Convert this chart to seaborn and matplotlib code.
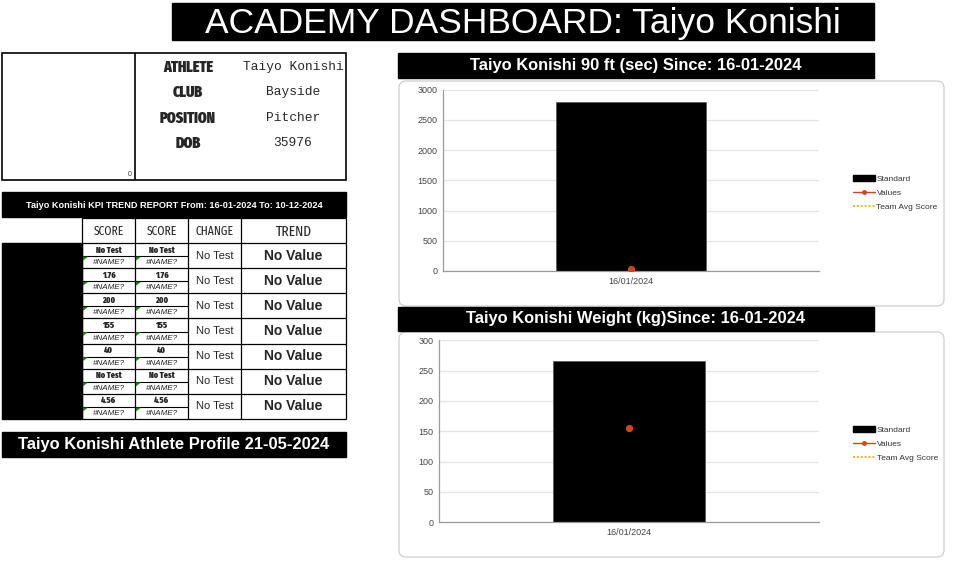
import matplotlib
matplotlib.use("Agg")
import matplotlib.pyplot as plt
import seaborn as sns
from matplotlib.patches import Rectangle, FancyBboxPatch, Polygon, Patch
from matplotlib.lines import Line2D
from matplotlib import font_manager as fm

# ---------------- data ----------------
dashboard_title = "ACADEMY DASHBOARD: Taiyo Konishi"
athlete_fields = ["ATHLETE", "CLUB", "POSITION", "DOB"]
athlete_values = ["Taiyo Konishi", "Bayside", "Pitcher", "35976"]
photo_placeholder = "0"

kpi_title = "Taiyo Konishi KPI TREND REPORT From: 16-01-2024 To: 10-12-2024"
kpi_headers = ["SCORE", "SCORE", "CHANGE", "TREND"]
kpi_first_scores = ["No Test", "1.76", "200", "155", "40", "No Test", "4.56"]
kpi_last_scores = ["No Test", "1.76", "200", "155", "40", "No Test", "4.56"]
kpi_formula_cells = ["#NAME?", "#NAME?", "#NAME?", "#NAME?", "#NAME?", "#NAME?", "#NAME?"]
kpi_change = ["No Test", "No Test", "No Test", "No Test", "No Test", "No Test", "No Test"]
kpi_trend = ["No Value", "No Value", "No Value", "No Value", "No Value", "No Value", "No Value"]
profile_footer = "Taiyo Konishi Athlete Profile 21-05-2024"

chart1_title = "Taiyo Konishi 90 ft (sec) Since: 16-01-2024"
chart1_dates = ["16/01/2024"]
chart1_standard = [2800]
chart1_values = [40]
chart1_ymax, chart1_step = 3000, 500

chart2_title = "Taiyo Konishi Weight (kg)Since: 16-01-2024"
chart2_dates = ["16/01/2024"]
chart2_standard = [266]
chart2_values = [155]
chart2_ymax, chart2_step = 300, 50

legend_labels = ["Standard", "Values", "Team Avg Score"]

# ---------------- setup ----------------
sns.set_theme(style="white")
W, H = 962, 578
SANS = ["Liberation Sans", "DejaVu Sans"]
MONO = ["Liberation Mono", "DejaVu Sans Mono"]
plt.rcParams["font.family"] = SANS


def _weight(f):
    w = f.weight
    if isinstance(w, str):
        w = fm.weight_dict.get(w, 400)
    return int(w)


def _find_condensed(heavy):
    best, best_score = None, -1e9
    for f in fm.fontManager.ttflist:
        key = (f.name + " " + f.fname).lower()
        if f.style != "normal":
            continue
        if "extracondensed" in key.replace("-", "").replace(" ", "") or f.stretch == "extra-condensed":
            s = 30
        elif "condensed" in key or f.stretch in ("condensed", "semi-condensed"):
            s = 20
        elif "narrow" in key:
            s = 15
        else:
            continue
        w = _weight(f)
        s -= abs(w - (850 if heavy else 400)) / 50
        if "mono" in key or "serif" in key and "sans" not in key:
            s -= 50
        if s > best_score:
            best, best_score = f, s
    if best is None:
        return dict(family="DejaVu Sans", fontweight="bold" if heavy else "normal")
    return dict(fontproperties=fm.FontProperties(fname=best.fname))


COND_HEAVY = _find_condensed(True)
COND_REG = _find_condensed(False)

fig = plt.figure(figsize=(W / 100, H / 100), dpi=100)
fig.patch.set_facecolor("white")
bg = fig.add_axes([0, 0, 1, 1])
bg.set_xlim(0, W)
bg.set_ylim(H, 0)
bg.axis("off")


def rect(x0, y0, x1, y1, fc="none", ec="black", lw=1.0, z=1):
    bg.add_patch(Rectangle((x0, y0), x1 - x0, y1 - y0, facecolor=fc, edgecolor=ec, lw=lw, zorder=z))


def hline(x0, x1, y, lw=0.9, c="black"):
    bg.plot([x0, x1], [y, y], color=c, lw=lw, zorder=3, solid_capstyle="butt")


def vline(x, y0, y1, lw=0.9, c="black"):
    bg.plot([x, x], [y0, y1], color=c, lw=lw, zorder=3, solid_capstyle="butt")


def cond_text(x, y, s, size, heavy=True, **kw):
    props = dict(COND_HEAVY if heavy else COND_REG)
    t = bg.text(x, y, s, ha="center", va="center", **props, **kw)
    t.set_fontsize(size)
    return t


# title bar
rect(172, 3, 874, 40, fc="black", ec="black")
bg.text(523, 23, dashboard_title, color="white", fontsize=25.5, ha="center", va="center", family=SANS)

# profile box
rect(2, 53, 346, 180, fc="white", ec="black", lw=1.2)
vline(135, 53, 180, lw=1.2)
bg.text(132, 174, photo_placeholder, fontsize=5, ha="right", va="center", color="#333")
for i, (f, v) in enumerate(zip(athlete_fields, athlete_values)):
    y = 67 + i * 25.3
    cond_text(188, y + 0.5, f, 11, heavy=True)
    bg.text(293, y, v, fontsize=9.3, ha="center", va="center", family=MONO)

# KPI header
rect(2, 192, 346, 217, fc="black", ec="black")
bg.text(174, 205, kpi_title, color="white", fontsize=6.6, fontweight="bold", ha="center", va="center")

# table
cols = [82, 135, 188, 241, 346]
top_h, body_top, body_bot = 218, 243, 419
rect(2, body_top, 82, body_bot, fc="black", ec="black")
vline(82, top_h, body_bot)
for x in cols[1:]:
    vline(x, top_h, body_bot)
hline(82, 346, top_h)
hline(82, 346, body_top)
for i, hd in enumerate(kpi_headers):
    cx = (cols[i] + cols[i + 1]) / 2
    fs = 10.5 if hd == "TREND" else 9
    cond_text(cx, (top_h + body_top) / 2 + 1, hd, fs, heavy=False)

n = len(kpi_first_scores)
rh = (body_bot - body_top) / n
for r in range(n):
    y0 = body_top + r * rh
    y1 = y0 + rh
    ym = y0 + rh * 0.52
    hline(82, 346, y1)
    hline(82, 188, ym, lw=0.8)
    for j, sc in enumerate([kpi_first_scores[r], kpi_last_scores[r]]):
        cx = (cols[j] + cols[j + 1]) / 2
        cond_text(cx, (y0 + ym) / 2 + 0.5, sc, 6.3, heavy=True)
        bg.text(cx, (ym + y1) / 2 + 0.5, kpi_formula_cells[r], fontsize=5.8, style="italic",
                ha="center", va="center", color="#222")
        gx = cols[j] + 1
        bg.add_patch(Polygon([[gx, ym + 0.6], [gx + 5, ym + 0.6], [gx, ym + 4.5]], closed=True,
                             facecolor="#1e7b1e", edgecolor="none", zorder=4))
    bg.text((cols[2] + cols[3]) / 2, (y0 + y1) / 2, kpi_change[r], fontsize=8, ha="center", va="center")
    bg.text((cols[3] + cols[4]) / 2, (y0 + y1) / 2, kpi_trend[r], fontsize=10, fontweight="bold",
            ha="center", va="center")

# footer
rect(2, 432, 346, 457, fc="black", ec="black")
bg.text(174, 445, profile_footer, color="white", fontsize=11.9, fontweight="bold", ha="center", va="center")


# ---------------- charts ----------------
def chart(head_y0, head_y1, card_y0, card_y1, ax_box, title, dates, standard, values, ymax, step):
    rect(398, head_y0, 874, head_y1, fc="black", ec="black", z=2)
    bg.text(636, (head_y0 + head_y1) / 2, title, color="white", fontsize=11.9, fontweight="bold",
            ha="center", va="center", zorder=3)
    bg.add_patch(FancyBboxPatch((399, card_y0), 545, card_y1 - card_y0,
                                boxstyle="round,pad=0,rounding_size=7",
                                facecolor="white", edgecolor="#cfcfcf", lw=0.9, zorder=1))
    x0, y0, x1, y1 = ax_box
    ax = fig.add_axes([x0 / W, 1 - y1 / H, (x1 - x0) / W, (y1 - y0) / H])
    ax.set_facecolor("none")
    sns.barplot(x=dates, y=standard, color="black", width=0.4, saturation=1, ax=ax,
                edgecolor="#555555", linewidth=0.5, zorder=2)
    sns.pointplot(x=dates, y=values, color="#d0441f", markers="o", markersize=3.2, ax=ax, zorder=3)
    ax.set_xlim(-0.5, 0.5)
    ax.set_ylim(0, ymax)
    ax.set_yticks(range(0, ymax + 1, step))
    ax.yaxis.grid(True, color="#e4e4e4", lw=0.9)
    ax.set_axisbelow(True)
    for s in ["top", "right"]:
        ax.spines[s].set_visible(False)
    for s in ["left", "bottom"]:
        ax.spines[s].set_color("#9a9a9a")
        ax.spines[s].set_linewidth(0.9)
    ax.tick_params(axis="both", labelsize=6.5, colors="#444444", length=0, pad=4)
    ax.set_xlabel("")
    ax.set_ylabel("")
    handles = [Patch(facecolor="black", edgecolor="black"),
               Line2D([0], [0], color="#d0441f", marker="o", markersize=2.5, lw=1),
               Line2D([0], [0], color="#f6b21b", lw=1.4, ls=(0, (1, 1)))]
    leg = ax.legend(handles, legend_labels, loc="center left", bbox_to_anchor=(1.082, 0.43),
                    frameon=False, fontsize=6, handlelength=2.6, handleheight=0.7,
                    labelspacing=0.75, handletextpad=0.2, borderaxespad=0)
    for t in leg.get_texts():
        t.set_color("#333333")
    return ax


chart(53, 78, 81, 306, (443, 89.7, 819, 271), chart1_title, chart1_dates, chart1_standard,
      chart1_values, chart1_ymax, chart1_step)
chart(307, 331, 332, 557, (439, 340.3, 819, 522.3), chart2_title, chart2_dates, chart2_standard,
      chart2_values, chart2_ymax, chart2_step)

fig.savefig("out.png", dpi=100, facecolor="white")
